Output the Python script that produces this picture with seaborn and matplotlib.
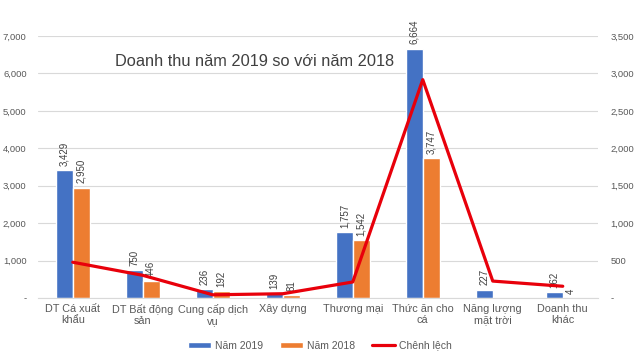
import numpy as np
import pandas as pd
import seaborn as sns
import matplotlib.pyplot as plt
from matplotlib.ticker import FuncFormatter

categories = ["DT Cá xuất\nkhẩu", "DT Bất động\nsản", "Cung cấp dịch\nvụ", "Xây dựng",
              "Thương mại", "Thức ăn cho\ncá", "Năng lượng\nmặt trời", "Doanh thu\nkhác"]
rev_2019 = [3429, 750, 236, 139, 1757, 6664, 227, 162]
rev_2018 = [2950, 446, 192, 81, 1542, 3747, 0, 4]
diff = [479, 304, 44, 58, 215, 2917, 227, 158]

series_names = ["Năm 2019", "Năm 2018"]
colors = ["#4472C4", "#ED7D31"]
line_color = "#E8000B"
text_color = "#595959"

df = pd.DataFrame({
    "cat": categories * 2,
    "value": rev_2019 + rev_2018,
    "year": [series_names[0]] * len(categories) + [series_names[1]] * len(categories),
})

sns.set_style("white")
plt.rcParams['font.family'] = ['Liberation Sans', 'DejaVu Sans']

fig = plt.figure(figsize=(6.4, 3.6), dpi=100)
ax = fig.add_axes([0.059, 0.172, 0.875, 0.728])

sns.barplot(data=df, x="cat", y="value", hue="year", palette=colors,
            width=0.48, ax=ax, saturation=1)

# value labels above bars, skip empty ones
for cont in ax.containers:
    labs = [f"{v:,.0f}" if v > 0 else "" for v in cont.datavalues]
    ax.bar_label(cont, labels=labs, rotation=90, padding=3, fontsize=7, color="#404040")

ax.set_ylim(0, 7000)
ax.set_yticks(np.arange(0, 7001, 1000))
fmt = FuncFormatter(lambda v, p: "-" if v == 0 else f"{v:,.0f}")
ax.yaxis.set_major_formatter(fmt)
ax.grid(axis="y", color="#D9D9D9", linewidth=0.8)
ax.set_axisbelow(True)
ax.set_xlabel("")
ax.set_ylabel("")
ax.tick_params(axis="y", labelsize=6.8, colors=text_color, length=0, pad=8)
ax.tick_params(axis="x", labelsize=7.8, colors=text_color, length=0, pad=4)
for s in ["top", "right", "left"]:
    ax.spines[s].set_visible(False)
ax.spines["bottom"].set_color("#D9D9D9")
ax.set_xlim(-0.5, len(categories) - 0.5)

ax2 = ax.twinx()
sns.lineplot(x=np.arange(len(categories)), y=diff, ax=ax2, color=line_color,
             linewidth=2.3, label="Chênh lệch")
ax2.set_ylim(0, 3500)
ax2.set_yticks(np.arange(0, 3501, 500))
ax2.yaxis.set_major_formatter(fmt)
ax2.tick_params(axis="y", labelsize=6.8, colors=text_color, length=0, pad=9)
for s in ["top", "right", "left", "bottom"]:
    ax2.spines[s].set_visible(False)
ax2.set_xlim(-0.5, len(categories) - 0.5)

h1, l1 = ax.get_legend_handles_labels()
h2, l2 = ax2.get_legend_handles_labels()
ax.get_legend().remove()
ax2.get_legend().remove()
fig.legend(h1 + h2, l1 + l2, loc="lower center", bbox_to_anchor=(0.5, 0.0), ncol=3,
           frameon=False, fontsize=7.5, labelcolor=text_color, handlelength=2.2,
           handleheight=0.5, handletextpad=0.4, columnspacing=1.6)

ax.text(0.138, 0.885, "Doanh thu năm 2019 so với năm 2018", transform=ax.transAxes,
        fontsize=11.8, color="#404040")

fig.savefig("out.png", dpi=100)
